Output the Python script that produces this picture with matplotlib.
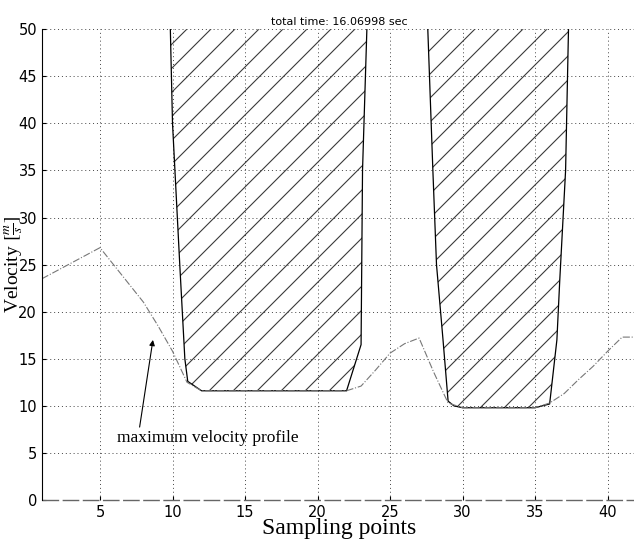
import matplotlib
matplotlib.use("Agg")
import matplotlib.pyplot as plt
import numpy as np
from matplotlib.collections import LineCollection
from matplotlib.transforms import IdentityTransform

# perfil de velocidad maxima (linea punto-raya)
prof_x = [1, 5, 8, 9, 10, 11, 12, 22, 23, 24, 25, 26, 27, 28, 29, 30, 35, 36, 37, 38, 39, 40, 41, 42]
prof_v = [23.5, 26.8, 21.0, 18.5, 15.8, 12.5, 11.6, 11.6, 12.1, 13.8, 15.6, 16.6, 17.2, 13.6, 10.3, 9.8,
          9.8, 10.3, 11.3, 12.8, 14.2, 15.8, 17.3, 17.3]

# obstaculos (zonas prohibidas)
obs1_x = [9.85, 10.0, 10.5, 10.85, 11.05, 12, 22, 23.0, 23.1, 23.4]
obs1_v = [50, 40, 25, 15, 12.6, 11.6, 11.6, 16.5, 35, 50]
obs2_x = [27.6, 27.95, 28.2, 28.65, 29.0, 29.4, 30, 35, 36.0, 36.5, 36.7, 37.1, 37.3]
obs2_v = [50, 35, 25, 17, 10.5, 10.0, 9.8, 9.8, 10.2, 17, 23.4, 35, 50]

# limite inferior
low_x = [1, 42]
low_v = [0, 0]

plt.rcParams["mathtext.fontset"] = "stix"
SERIF = "Liberation Serif"

W, H = 634, 543
fig = plt.figure(figsize=(W / 100, H / 100), dpi=100)
ax = fig.add_axes([0.0662, 0.0792, 0.938, 0.867])

# rayado a 45 grados (en pixeles), recortado a cada obstaculo
step = 24
segs = [[(c, 0), (c + H, H)] for c in np.arange(-H, W, step)]
for ox, ov in [(obs1_x, obs1_v), (obs2_x, obs2_v)]:
    patch = ax.fill(ox, ov, facecolor="none", edgecolor="none")[0]
    lc = LineCollection(segs, colors="#3a3a3a", linewidths=0.8, transform=IdentityTransform())
    lc.set_clip_path(patch)
    ax.add_collection(lc, autolim=False)
    ax.plot(ox, ov, color="black", linewidth=0.9)

ax.plot(prof_x, prof_v, color="#777777", linestyle="-.", linewidth=0.8)
ax.plot(low_x, low_v, color="#666666", linestyle="--", dashes=(12, 2.5), linewidth=1.0, clip_on=False)

ax.set_xlim(1, 42)
ax.set_ylim(0, 50)
ax.set_xticks(range(5, 45, 5))
ax.set_yticks(range(0, 55, 5))
ax.grid(True, linestyle=(0, (1, 3)), color="#444444", linewidth=0.7)
ax.tick_params(labelsize=10.5, direction="in", length=3)

for s in ["top", "right", "bottom"]:
    ax.spines[s].set_visible(False)
ax.spines["left"].set_linewidth(0.8)

ax.set_title("total time: 16.06998 sec", fontsize=8, pad=3)
ax.set_xlabel("Sampling points", family=SERIF, fontsize=17, labelpad=-1)
ax.set_ylabel(r"Velocity $[\frac{m}{s}]$", family=SERIF, fontsize=14)
ax.yaxis.set_label_coords(-0.029, 0.5)

ax.annotate("maximum velocity profile", xy=(8.65, 17), xytext=(6.2, 6.6),
            family=SERIF, fontsize=12.5, va="center",
            arrowprops=dict(arrowstyle="-|>", color="black", linewidth=0.8,
                            shrinkA=0, shrinkB=0, mutation_scale=8,
                            relpos=(0.12, 1.0)))

fig.savefig("out.png", dpi=100)
